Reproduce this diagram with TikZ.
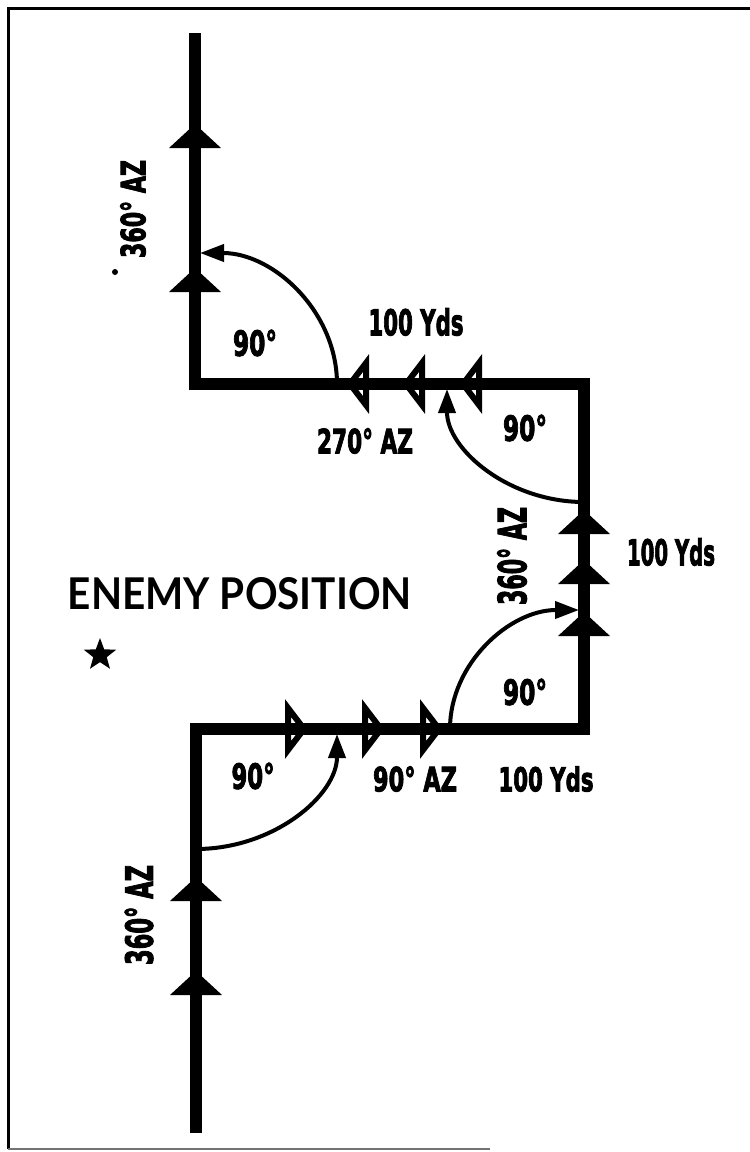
\documentclass[tikz,border=0pt]{standalone}
\usepackage{fontspec}
\usepackage{graphicx}
\usetikzlibrary{arrows.meta,shapes.geometric}
\newfontfamily\labf{DejaVu Sans}[FakeBold=3]
\newfontfamily\enf{Lato}
\newcommand\mylbl[3]{\resizebox{#1pt}{#2pt}{\labf\bfseries #3}}
\tikzset{
  mainline/.style={line width=12pt, line join=miter, line cap=butt},
  arcline/.style={line width=4pt, shorten >=5pt, -{Triangle[length=24pt,width=17pt]}},
  lbl/.style={inner sep=0pt, outer sep=0pt},
  filltri/.pic={\fill (0,0) -- (26,24) -- (-26,24) -- cycle;},
  lefttri/.pic={\draw[line width=6pt,fill=white,line join=miter] (3,0) -- (19,-21) -- (19,21) -- cycle;},
  righttri/.pic={\draw[line width=6pt,fill=white,line join=miter] (-3,0) -- (-19,-21) -- (-19,21) -- cycle;}
}
\begin{document}
\begin{tikzpicture}[x=1pt,y=-1pt]
\useasboundingbox (0,0) rectangle (750,1152);
\fill[white] (0,0) rectangle (750,1152);
% frame
\draw[line width=3pt] (750,8) -- (8,8) -- (8,1149);
\draw[line width=2pt, black!55] (8,1149) -- (490,1149);
% main path corners
\coordinate (A) at (195,33);
\coordinate (B) at (195,384);
\coordinate (C) at (584,384);
\coordinate (D) at (584,729);
\coordinate (E) at (196,729);
\coordinate (F) at (196,1133);
% hollow heads on horizontal legs
\pic at (347,384) {lefttri};
\pic at (403,384) {lefttri};
\pic at (460,384) {lefttri};
\pic at (307,729) {righttri};
\pic at (384,729) {righttri};
\pic at (442,729) {righttri};
% main route
\draw[mainline] (A) -- (B) -- (C) -- (D) -- (E) -- (F);
% filled heads on vertical legs
\pic at (195,124) {filltri};
\pic at (195,268) {filltri};
\pic at (584,510) {filltri};
\pic at (584,560) {filltri};
\pic at (584,612) {filltri};
\pic at (196,877) {filltri};
\pic at (196,971) {filltri};
% turning arcs
\coordinate (a1) at (337,384);
\coordinate (a2) at (584,502);
\coordinate (a3) at (450,729);
\coordinate (a4) at (196,849);
\draw[arcline] (a1) arc[start angle=0, end angle=90, x radius=142pt, y radius=131pt];
\draw[arcline] (a2) arc[start angle=270, end angle=180, x radius=137pt, y radius=118pt];
\draw[arcline] (a3) arc[start angle=180, end angle=90, x radius=134pt, y radius=119pt];
\draw[arcline] (a4) arc[start angle=270, end angle=360, x radius=141pt, y radius=120pt];
% labels
\node[lbl] (n90a) at (255,343) {\mylbl{44}{26}{90°}};
\node[lbl] (yds1) at (416,322) {\mylbl{95}{27}{100 Yds}};
\node[lbl] (az270) at (365,441) {\mylbl{96}{25}{270° AZ}};
\node[lbl] (n90b) at (525,428) {\mylbl{44}{26}{90°}};
\node[lbl,rotate=90] (az360r) at (512,556) {\mylbl{98}{29}{360° AZ}};
\node[lbl] (yds2) at (671,552) {\mylbl{88}{27}{100 Yds}};
\node[lbl] (enemy) at (240,594) {\resizebox{344pt}{32pt}{\enf\bfseries ENEMY POSITION}};
\node[star, star points=5, star point ratio=2.4, fill, inner sep=0pt, minimum size=34pt] (star) at (100,655) {};
\node[lbl] (n90c) at (525,692) {\mylbl{44}{26}{90°}};
\node[lbl] (n90d) at (253,776) {\mylbl{43}{26}{90°}};
\node[lbl] (az90) at (415,779) {\mylbl{84}{25}{90° AZ}};
\node[lbl] (yds3) at (546,779) {\mylbl{95}{25}{100 Yds}};
\node[lbl,rotate=90] (az360l) at (139,915) {\mylbl{100}{28}{360° AZ}};
\node[lbl,rotate=90] (az360t) at (133,209) {\mylbl{98}{25}{360° AZ}};
\fill (115,272) circle[radius=3pt];
\end{tikzpicture}
\end{document}
